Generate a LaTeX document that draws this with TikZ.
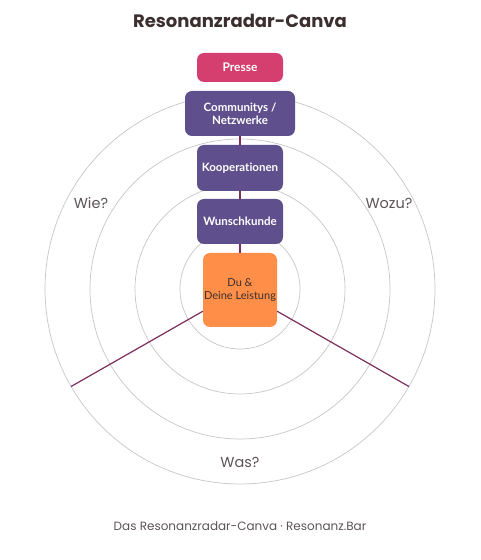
\documentclass[tikz,border=0pt]{standalone}
\usepackage{fontspec}
\setmainfont{Lato}[Ligatures=NoCommon]
\newfontfamily\headfont{Poppins}

\definecolor{ringgray}{HTML}{C9C4C9}
\definecolor{spokered}{HTML}{7D2E5C}
\definecolor{pressred}{HTML}{D43F6F}
\definecolor{boxpurple}{HTML}{5F4F8D}
\definecolor{coreorange}{HTML}{FF8F48}
\definecolor{inkdark}{HTML}{3B2F2F}
\definecolor{inkgray}{HTML}{5C5456}

\begin{document}
\begin{tikzpicture}[x=1pt, y=1pt,
    ring/.style={draw=ringgray, line width=0.7pt},
    spoke/.style={draw=spokered, line width=1.2pt},
    box/.style={rounded corners=7pt, inner sep=0pt, align=center, text=white,
      font=\bfseries\fontsize{11.5}{13}\selectfont, minimum width=86pt},
    ask/.style={text=inkgray, font=\headfont\fontsize{14.5}{16}\selectfont}]
    \useasboundingbox (0,0) rectangle (480,560);
    \coordinate (mid) at (240,271);
    \foreach \r in {60,105,150,195}
      \draw[ring] (mid) circle (\r);
    % ring boxes
    \node[box, fill=boxpurple, minimum height=45pt] (wunsch) at (240,338.5) {Wunschkunde};
    \node[box, fill=boxpurple, minimum height=46pt] (koop) at (240,392) {Kooperationen};
    \node[box, fill=boxpurple, minimum height=45pt, minimum width=110pt] (comm) at (240,446.5) {Communitys /\\Netzwerke};
    \node[box, fill=pressred, minimum height=29pt, font=\bfseries\fontsize{12}{14}\selectfont] (presse) at (240,492.5) {Presse};
    \node[box, fill=coreorange, minimum width=74pt, minimum height=74pt, text=inkdark,
      font=\fontsize{11}{13}\selectfont] (du) at (240,270) {Du \&\\Deine Leistung};
    \coordinate (wieend) at (71.1,173.5);
    \coordinate (wozuend) at (408.9,173.5);
    \draw[spoke] (du) -- (wunsch);
    \draw[spoke] (wunsch) -- (koop);
    \draw[spoke] (koop) -- (comm);
    \draw[spoke] (du) -- (wieend);
    \draw[spoke] (du) -- (wozuend);
    % labels
    \node[ask] (wie) at (91,357) {Wie?};
    \node[ask] (wozu) at (389,357) {Wozu?};
    \node[ask] (was) at (240,98) {Was?};
    \node[text=inkdark, font=\headfont\bfseries\fontsize{18}{21}\selectfont] (title) at (240,539) {Resonanzradar-Canva};
    \node[text=inkgray, font=\headfont\fontsize{12}{14}\selectfont] (foot) at (240,34) {Das Resonanzradar-Canva · Resonanz.Bar};
  \end{tikzpicture}
\end{document}
